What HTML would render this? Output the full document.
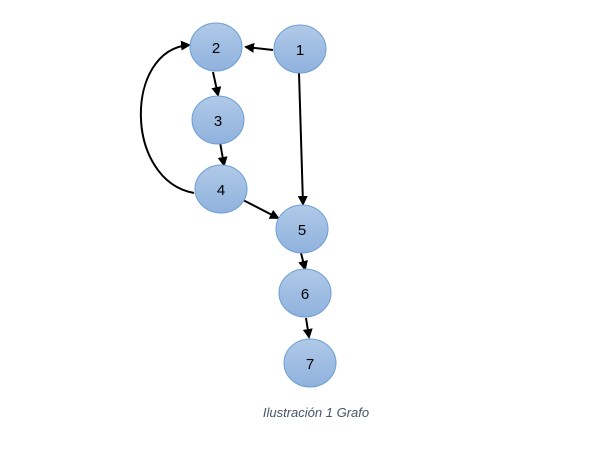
<!DOCTYPE html>
<html><head><meta charset="utf-8"><style>
html,body{margin:0;padding:0;background:#fff;width:596px;height:471px;overflow:hidden}
</style></head><body>
<svg width="596" height="471" viewBox="0 0 596 471" xmlns="http://www.w3.org/2000/svg">
<defs>
<linearGradient id="g" x1="0" y1="0" x2="0" y2="1">
<stop offset="0" stop-color="#b0c9e8"/><stop offset="1" stop-color="#8fb2dd"/>
</linearGradient>
<marker id="a" markerWidth="10" markerHeight="10" refX="8" refY="5" orient="auto" markerUnits="userSpaceOnUse">
<path d="M0,0 L10,5 L0,10 z" fill="#000"/>
</marker>
</defs>
<g stroke="#000" stroke-width="2" fill="none">
<line x1="273" y1="50" x2="246" y2="47" marker-end="url(#a)"/>
<line x1="299" y1="73" x2="303" y2="204" marker-end="url(#a)"/>
<line x1="213" y1="72" x2="218" y2="95" marker-end="url(#a)"/>
<line x1="220" y1="142" x2="224" y2="165" marker-end="url(#a)"/>
<line x1="243" y1="200" x2="278" y2="218" marker-end="url(#a)"/>
<line x1="301" y1="253" x2="305" y2="269" marker-end="url(#a)"/>
<line x1="306" y1="318" x2="309" y2="337" marker-end="url(#a)"/>
<path d="M194,193 C124,180 124,50 189,45" marker-end="url(#a)"/>
</g>
<g fill="url(#g)" stroke="#6d9ed4" stroke-width="1">
<ellipse cx="216" cy="47" rx="26" ry="24"/>
<ellipse cx="300" cy="49" rx="26" ry="24"/>
<ellipse cx="218" cy="120" rx="26" ry="24"/>
<ellipse cx="221" cy="189" rx="26" ry="24"/>
<ellipse cx="302" cy="229" rx="26" ry="24"/>
<ellipse cx="305" cy="293" rx="26" ry="24"/>
<ellipse cx="310" cy="363" rx="26" ry="24"/>
</g>
<g font-family="Liberation Sans, sans-serif" font-size="15" fill="#000" text-anchor="middle">
<text x="216" y="53">2</text>
<text x="300" y="55">1</text>
<text x="218" y="126">3</text>
<text x="221" y="195">4</text>
<text x="302" y="235">5</text>
<text x="305" y="299">6</text>
<text x="310" y="369">7</text>
</g>
<text x="316" y="417" font-family="Liberation Sans, sans-serif" font-style="italic" font-size="13" fill="#44546a" text-anchor="middle">Ilustración 1 Grafo</text>
</svg>
</body></html>
